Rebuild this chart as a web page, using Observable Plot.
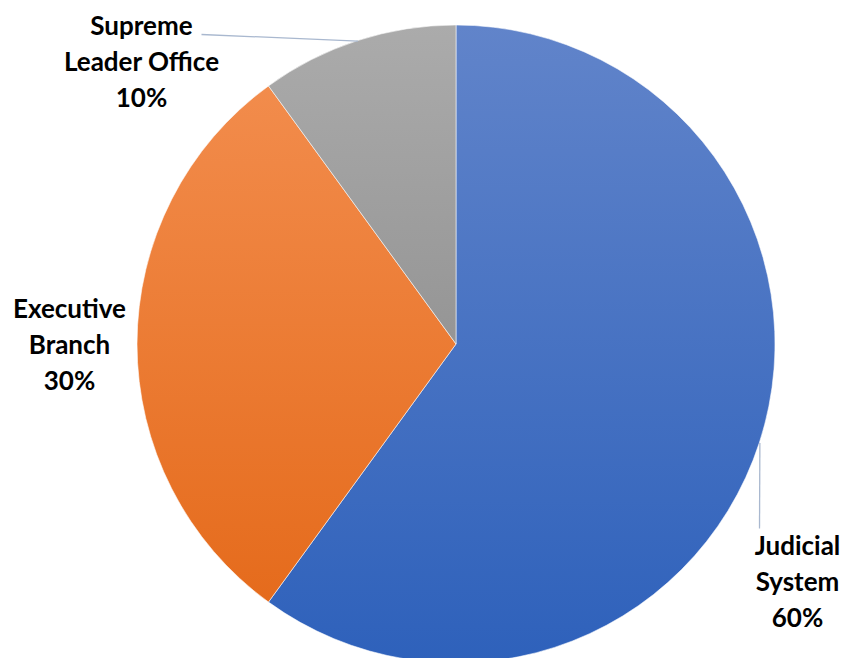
<!DOCTYPE html>
<html>
<head>
<meta charset="utf-8">
<script src="https://cdn.jsdelivr.net/npm/d3@7"></script>
<script src="https://cdn.jsdelivr.net/npm/@observablehq/plot@0.6"></script>
<style>
  html, body { margin: 0; padding: 0; background: #ffffff; }
  #chart svg { display: block; }
</style>
</head>
<body>
<div id="chart"></div>
<script>
// ---- data ----
const categories = ["Judicial System", "Executive Branch", "Supreme Leader Office"];
const shares = [60, 30, 10];
const labelLines = [["Judicial", "System"], ["Executive", "Branch"], ["Supreme", "Leader Office"]];

// ---- styles ----
const gradTop = ["#6184ca", "#f28c4c", "#ababab"];
const gradBottom = ["#2e61bb", "#e56b1c", "#959595"];

// ---- layout (pixels of the 852x658 frame) ----
const W = 852, H = 658, R = 319, CX = 456, CY = 344;
const toX = px => (px - CX) / R;
const toY = py => (CY - py) / R;
const labelPos = [ {x: 797, top: 529, leader: [759, 528]},
                   {x: 69, top: 292, leader: null},
                   {x: 141, top: 9, leader: [201, 34]} ];

const rows = categories.map((c, i) => ({category: c, share: shares[i], lines: labelLines[i], i}));
const arcs = d3.pie().sort(null).value(d => d.share)(rows);
arcs.forEach(a => { a.mid = (a.startAngle + a.endAngle) / 2; });

function pieMark(index, scales) {
  const cx = scales.x(0), cy = scales.y(0), r = scales.x(1) - cx;
  const g = d3.create("svg:g");
  const defs = g.append("defs");
  rows.forEach((d, i) => {
    const lg = defs.append("linearGradient").attr("id", "slice" + i)
      .attr("x1", 0).attr("y1", 0).attr("x2", 0).attr("y2", 1);
    lg.append("stop").attr("offset", "0%").attr("stop-color", gradTop[i]);
    lg.append("stop").attr("offset", "100%").attr("stop-color", gradBottom[i]);
  });
  const arc = d3.arc().innerRadius(0).outerRadius(r);
  g.append("g").attr("transform", `translate(${cx},${cy})`)
    .selectAll("path").data(arcs).join("path")
    .attr("d", arc)
    .attr("fill", (d, i) => `url(#slice${i})`)
    .attr("stroke", "#ffffff").attr("stroke-width", 0.8).attr("stroke-opacity", 0.7);
  return g.node();
}

const leaders = arcs.filter((a, i) => labelPos[i].leader).map(a => ({
  x1: Math.sin(a.mid), y1: Math.cos(a.mid),
  x2: toX(labelPos[a.index].leader[0]), y2: toY(labelPos[a.index].leader[1])
}));

const chart = Plot.plot({
  width: W, height: H,
  margin: 0,
  x: {domain: [toX(0), toX(W)], range: [0, W], axis: null},
  y: {domain: [toY(H), toY(0)], range: [H, 0], axis: null},
  style: {background: "#ffffff"},
  marks: [
    pieMark,
    Plot.link(leaders, {x1: "x1", y1: "y1", x2: "x2", y2: "y2", stroke: "#a9b8cf", strokeWidth: 1.3}),
    Plot.text(rows, {
      x: d => toX(labelPos[d.i].x),
      y: d => toY(labelPos[d.i].top),
      text: d => d.lines.join("\n") + "\n" + d.share + "%",
      lineAnchor: "top", textAnchor: "middle",
      lineHeight: 1.385, fontSize: 26, fontWeight: "bold",
      fontFamily: "Lato, 'Open Sans', sans-serif", fill: "#000000"
    })
  ]
});
document.getElementById("chart").append(chart);
</script>
</body>
</html>
